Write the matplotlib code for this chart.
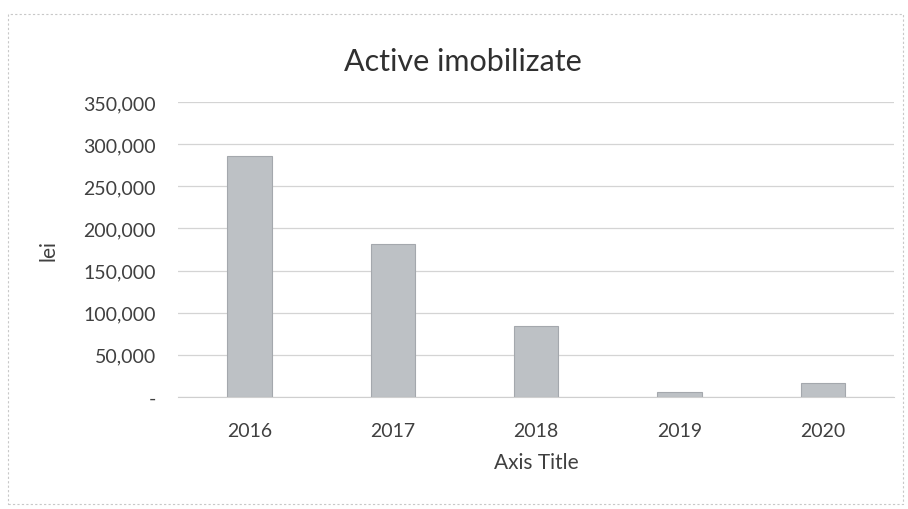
import matplotlib.pyplot as plt
from matplotlib.patches import Rectangle
from matplotlib.ticker import FuncFormatter

# fixed assets per year (lei)
years = ['2016', '2017', '2018', '2019', '2020']
values = [286000, 181000, 84000, 6000, 17000]
yticks = [0, 50000, 100000, 150000, 200000, 250000, 300000, 350000]

plt.rcParams['font.family'] = ['Lato', 'DejaVu Sans']

fig = plt.figure(figsize=(9.08, 5.10), dpi=100)
ax = fig.add_axes([0.196, 0.2196, 0.789, 0.5784])

x = range(len(years))
ax.bar(x, values, width=0.31, color='#bdc1c5', edgecolor='#a4a8ad', linewidth=0.8, zorder=3)

ax.set_xlim(-0.5, len(years) - 0.5)
ax.set_ylim(0, 350000)
ax.set_yticks(yticks)

def acct(v, pos):
    # accounting style: zero shows as a dash
    if v == 0:
        return '-'
    return '{:,.0f}'.format(v)

ax.yaxis.set_major_formatter(FuncFormatter(acct))
ax.set_xticks(list(x))
ax.set_xticklabels(years)

ax.grid(axis='y', color='#d4d4d4', linewidth=0.9, zorder=0)
for s in ['top', 'right', 'left']:
    ax.spines[s].set_visible(False)
ax.spines['bottom'].set_color('#cfcfcf')
ax.tick_params(axis='both', length=0, labelsize=14, colors='#404040')
ax.tick_params(axis='x', pad=18)
ax.tick_params(axis='y', pad=16)

fig.text(0.51, 0.878, 'Active imobilizate', fontsize=22, color='#303030', ha='center', va='center')
ax.set_xlabel('Axis Title', fontsize=15, color='#404040', labelpad=9)
ax.set_ylabel('lei', fontsize=15, color='#404040', labelpad=18)

# chart frame
fig.patches.append(Rectangle((0.009, 0.01), 0.985, 0.96, transform=fig.transFigure,
                             fill=False, edgecolor='#c8c8c8', linewidth=0.8, linestyle=(0, (2, 2))))

fig.savefig('out.png', dpi=100)
